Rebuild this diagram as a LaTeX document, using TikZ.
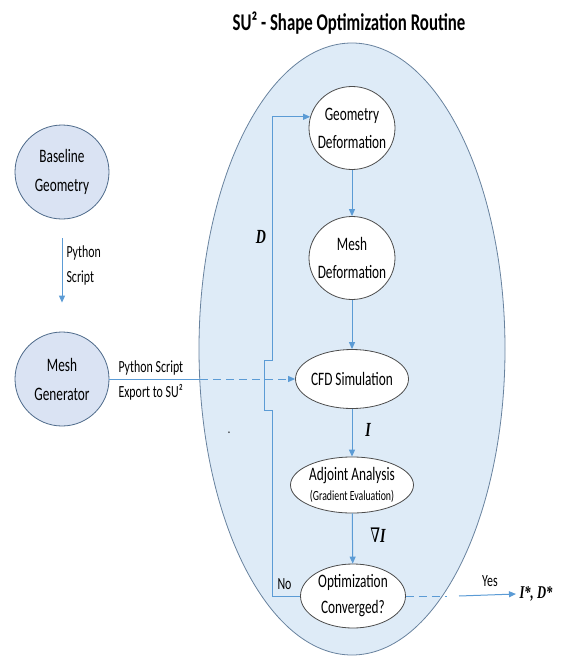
\documentclass[tikz,border=0pt]{standalone}
\usepackage{fontspec}
\setmainfont{Carlito}[FakeStretch=0.7]
\newfontfamily\serfont{Liberation Serif}[FakeStretch=0.7]
\newfontfamily\nablafont{DejaVu Serif}[FakeStretch=0.7]
\usetikzlibrary{shapes.geometric,arrows.meta}

\definecolor{pool}{RGB}{222,235,247}
\definecolor{poolline}{RGB}{104,130,158}
\definecolor{ball}{RGB}{218,227,243}
\definecolor{ballline}{RGB}{78,106,138}
\definecolor{flow}{RGB}{91,155,213}
\newcommand{\bi}[1]{{\serfont\bfseries\itshape #1}}

\begin{document}
\begin{tikzpicture}[x=1pt,y=-1pt,
  stage/.style={ellipse,draw=black!70,fill=white,line width=0.8pt,inner sep=-20pt,
    font=\fontsize{19}{28}\selectfont,align=center},
  src/.style={circle,draw=ballline,fill=ball,line width=0.8pt,inner sep=-20pt,
    minimum size=94pt,font=\fontsize{19}{29}\selectfont,align=center},
  arr/.style={draw=flow,line width=1pt,-{Triangle[length=7pt,width=6pt]}},
  wire/.style={draw=flow,line width=1pt},
  tag/.style={font=\fontsize{17}{25}\selectfont,align=left},
  sym/.style={font=\fontsize{20}{20}\selectfont}]

\useasboundingbox (0,0) rectangle (565,659);

\def\cx{352}; \def\jx{272};

% routine
\draw [draw=poolline,fill=pool,line width=0.8pt] (\cx,349) ellipse [x radius=153pt,y radius=306pt];
\node[font=\fontsize{24}{28}\selectfont\bfseries,anchor=base] (title) at (349,30) {SU² - Shape Optimization Routine};

% left side
\node[src] (base) at (62,172) {Baseline\\Geometry};
\node[src] (mgen) at (62,379) {Mesh\\Generator};
\draw[arr] ([yshift=-19pt]base.south) -- ([yshift=29pt]mgen.north);
\node[tag,anchor=west] (py) at (63,265) {Python\\Script};

% stages
\node[stage,minimum width=86pt,minimum height=83pt] (geo) at (\cx,128) {Geometry\\Deformation};
\node[stage,minimum width=86pt,minimum height=83pt] (mdef) at (\cx,258) {Mesh\\Deformation};
\node[stage,minimum width=113pt,minimum height=59pt] (cfd) at (\cx,379) {CFD Simulation};
\node[stage,minimum width=123pt,minimum height=56pt,font=\fontsize{19}{20}\selectfont] (adj) at (\cx,485)
  {Adjoint Analysis\\{\fontsize{14}{14}\selectfont(Gradient Evaluation)}};
\node[stage,minimum width=105pt,minimum height=64pt,font=\fontsize{19}{26}\selectfont] (opt) at (353,596) {Optimization\\Converged?};

\draw[arr] (geo) -- (mdef);
\draw[arr] (mdef) -- (cfd);
\draw[arr] (cfd) -- (adj);
\draw[arr] (adj) -- (opt);
\node[sym] (ival) at (368,430) {\bi{I}};
\node[sym] (gval) at (378,535) {{\nablafont ∇}\bi{I}};

% mesh input
\coordinate (edgeL) at (200,379);
\draw[wire] (mgen.east) -- (edgeL);
\draw[arr,dashed,dash pattern=on 8pt off 5pt] (edgeL) -- (cfd.west);
\node[tag,anchor=west] (exp) at (115,380) {Python Script\\Export to SU²};

% design loop
\coordinate (hopb) at (\jx,410);
\coordinate (hopt) at (\jx,360);
\draw[arr] (opt.west) -| (hopb) -- ++(-8,0) -- ++(0,-50) -- (hopt) |- (geo.165);
\node[sym] (dval) at (261,237) {\bi{D}};
\node[tag,anchor=west] (no) at (274,584) {No};

% exit
\coordinate (edgeR) at (447,596);
\coordinate (yesA) at (459,596);
\node[sym,anchor=west,font=\fontsize{18}{18}\selectfont] (res) at (516,594) {\bi{I*, D*}};
\draw[wire,dashed,dash pattern=on 8pt off 5pt] (opt.east) -- (edgeR);
\draw[arr] (yesA) -- (res.west);
\node[tag] (yes) at (490,581) {Yes};

\node[font=\fontsize{14}{14}\selectfont] (dot) at (229,433) {.};

\end{tikzpicture}
\end{document}
